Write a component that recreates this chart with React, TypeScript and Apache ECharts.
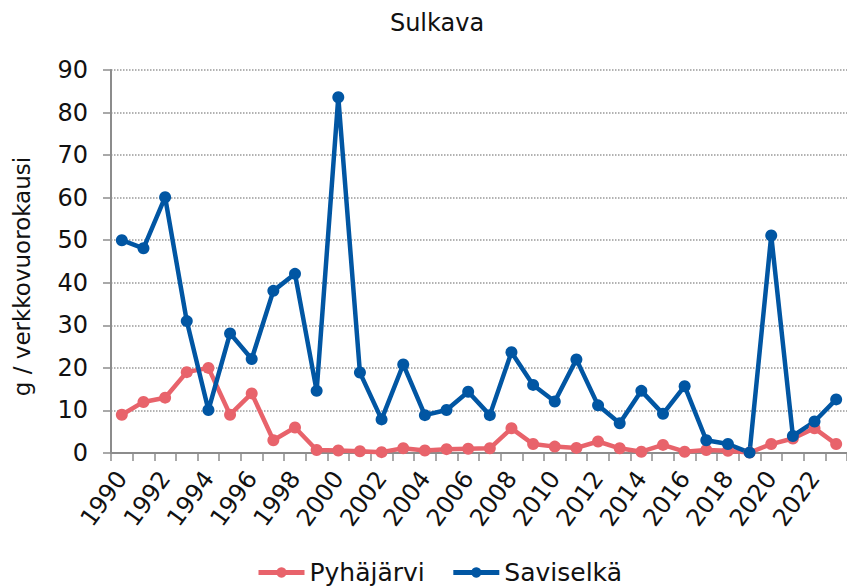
import React, { useEffect, useRef } from "react";
import * as echarts from "echarts";

const years: string[] = [
  "1990", "1991", "1992", "1993", "1994", "1995", "1996", "1997", "1998", "1999",
  "2000", "2001", "2002", "2003", "2004", "2005", "2006", "2007", "2008", "2009",
  "2010", "2011", "2012", "2013", "2014", "2015", "2016", "2017", "2018", "2019",
  "2020", "2021", "2022", "2023",
];

const pyhajarvi: number[] = [
  9, 12, 13, 19, 20, 9, 14, 3, 6, 0.7,
  0.6, 0.4, 0.2, 1.1, 0.6, 0.9, 1.0, 1.1, 5.8, 2.1,
  1.5, 1.2, 2.7, 1.1, 0.3, 1.9, 0.3, 0.7, 0.5, 0.1,
  2.1, 3.4, 5.8, 2.1,
];

const saviselka: number[] = [
  50, 48.1, 60.1, 31, 10.1, 28.1, 22.1, 38.1, 42.1, 14.6,
  83.6, 18.9, 7.9, 20.8, 8.9, 10.1, 14.4, 8.9, 23.7, 16,
  12.1, 22, 11.2, 7, 14.6, 9.2, 15.7, 3, 2.1, 0.1,
  51.1, 4, 7.4, 12.6,
];

const FONT = "DejaVu Sans";

export default function App() {
  const ref = useRef<HTMLDivElement>(null);
  useEffect(() => {
    if (!ref.current) return;
    const chart = echarts.init(ref.current, null, { renderer: "svg" });
    chart.setOption({
      animation: false,
      textStyle: { fontFamily: FONT },
      title: {
        text: "Sulkava",
        left: 432,
        textAlign: "center",
        top: 6,
        textStyle: { fontFamily: FONT, fontSize: 24, fontWeight: "normal", color: "#111" },
      },
      legend: {
        top: 560,
        left: 256,
        padding: 0,
        itemWidth: 46,
        itemHeight: 13,
        itemGap: 26,
        lineStyle: { width: 5 },
        textStyle: { fontFamily: FONT, fontSize: 25, color: "#111" },
        data: ["Pyhäjärvi", "Saviselkä"],
      },
      grid: { left: 111, top: 70, width: 738, bottom: 135, containLabel: false },
      xAxis: {
        type: "category",
        data: years,
        boundaryGap: true,
        axisLine: { lineStyle: { color: "#8c8c8c", width: 2 } },
        axisTick: { show: true, alignWithLabel: false, interval: 0, length: 8, lineStyle: { color: "#8c8c8c", width: 1.5 } },
        axisLabel: {
          interval: 1,
          rotate: 54,
          fontSize: 24,
          color: "#111",
          fontFamily: FONT,
          margin: 21,
        },
      },
      yAxis: {
        type: "value",
        min: 0,
        max: 90,
        interval: 10,
        name: "g / verkkovuorokausi",
        nameLocation: "middle",
        nameGap: 78,
        nameRotate: 90,
        nameTextStyle: { fontFamily: FONT, fontSize: 23, color: "#111", padding: [0, 30, 0, 0] },
        axisLine: { show: true, lineStyle: { color: "#8c8c8c", width: 2 } },
        axisTick: { show: true, length: 8, lineStyle: { color: "#8c8c8c", width: 1.5 } },
        axisLabel: { fontSize: 24, color: "#111", fontFamily: FONT, margin: 23 },
        splitLine: { show: true, lineStyle: { color: "#999", type: "dotted", width: 1.5 } },
      },
      series: [
        {
          name: "Pyhäjärvi",
          type: "line",
          data: pyhajarvi,
          symbol: "circle",
          symbolSize: 12,
          itemStyle: { color: "#E8636B" },
          lineStyle: { color: "#E8636B", width: 4.5 },
        },
        {
          name: "Saviselkä",
          type: "line",
          data: saviselka,
          symbol: "circle",
          symbolSize: 12,
          itemStyle: { color: "#0156A3" },
          lineStyle: { color: "#0156A3", width: 4.5 },
        },
      ],
    });
    return () => chart.dispose();
  }, []);
  return <div ref={ref} style={{ width: 847, height: 588, position: "absolute", left: 0, top: 0 }} />;
}
